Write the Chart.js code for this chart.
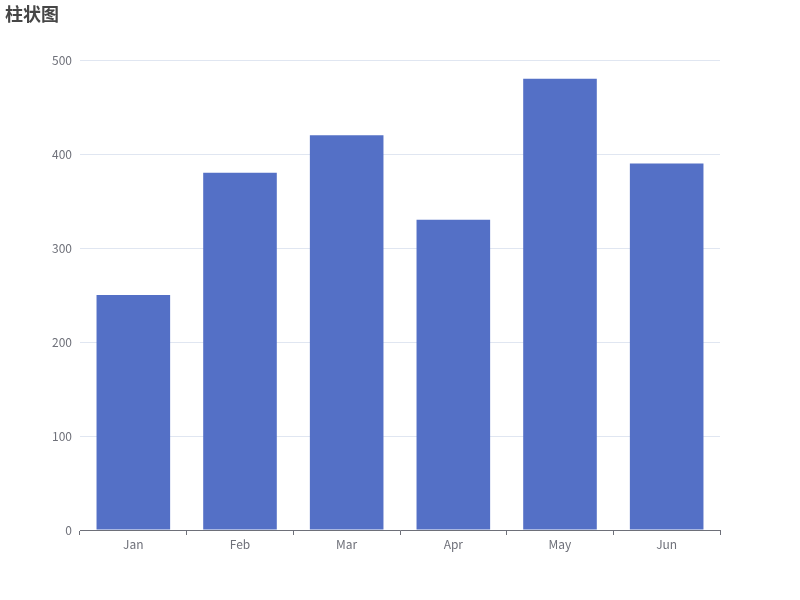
<!DOCTYPE html>
<html>
<head>
<meta charset="utf-8">
<script src="https://cdn.jsdelivr.net/npm/chart.js@4/dist/chart.umd.min.js"></script>
<style>
  html, body { margin: 0; padding: 0; background: #fff; }
  #wrap { position: relative; width: 800px; height: 600px; }
  #title { position: absolute; left: 5px; top: 0px; font: bold 18px "Noto Sans CJK SC", sans-serif; color: #464646; }
</style>
</head>
<body>
<div id="wrap">
  <canvas id="bar-chart" width="800" height="600"></canvas>
  <div id="title">柱状图</div>
</div>
<script>
// Bar Chart
const months = ['Jan', 'Feb', 'Mar', 'Apr', 'May', 'Jun'];
const sales = [250, 380, 420, 330, 480, 390];
const yTicks = [0, 100, 200, 300, 400, 500];

const axisColor = '#6E7079';
const fontFamily = '"Noto Sans CJK SC", "Noto Sans", sans-serif';

const barChart = document.getElementById('bar-chart').getContext('2d');
const barData = {
    labels: months,
    datasets: [{
        label: 'Sales',
        data: sales,
        backgroundColor: '#5470c6',
        borderWidth: 0,
        categoryPercentage: 1,
        barPercentage: 0.69
    }]
};
const barChartOptions = {
    responsive: false,
    animation: false,
    layout: { padding: { top: 60, right: 80, left: 0, bottom: 0 } },
    plugins: {
        legend: { display: false },
        tooltip: { enabled: false }
    },
    scales: {
        x: {
            afterFit: s => { s.height = 70; },
            grid: {
                offset: true,
                drawOnChartArea: false,
                drawTicks: true,
                tickLength: 5,
                color: axisColor
            },
            border: { display: true, color: axisColor, width: 1 },
            ticks: { color: axisColor, font: { size: 12, family: fontFamily }, padding: 2 }
        },
        y: {
            min: 0,
            max: 500,
            afterFit: s => { s.width = 80; },
            afterBuildTicks: s => { s.ticks = yTicks.map(v => ({ value: v })); },
            grid: { color: '#E0E6F1', drawTicks: false },
            border: { display: false },
            ticks: { color: axisColor, font: { size: 12, family: fontFamily }, padding: 8 }
        }
    }
};
const barChartInstance = new Chart(barChart, {
    type: 'bar',
    data: barData,
    options: barChartOptions
});
</script>
</body>
</html>
